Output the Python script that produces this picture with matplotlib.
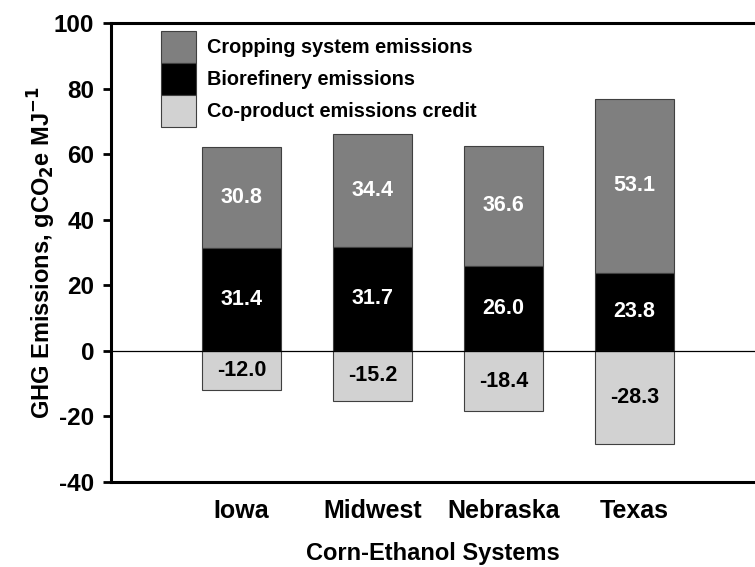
import numpy as np
import matplotlib.pyplot as plt

plt.rcParams['font.family'] = ['Liberation Sans', 'DejaVu Sans']
plt.rcParams['font.weight'] = 'bold'
plt.rcParams['axes.unicode_minus'] = False

systems = ["Iowa", "Midwest", "Nebraska", "Texas"]
biorefinery = [31.4, 31.7, 26.0, 23.8]
cropping = [30.8, 34.4, 36.6, 53.1]
coproduct = [-12.0, -15.2, -18.4, -28.3]

x = np.arange(len(systems))
w = 0.6

fig = plt.figure(figsize=(7.55, 5.67), dpi=100)
ax = fig.add_axes([111 / 755, 1 - 482 / 567, 644 / 755, 459 / 567])

edge = "#404040"
b_crop = ax.bar(x, cropping, w, bottom=biorefinery, color="#7f7f7f",
                edgecolor=edge, linewidth=0.8, label="Cropping system emissions")
b_bio = ax.bar(x, biorefinery, w, color="black",
               edgecolor=edge, linewidth=0.8, label="Biorefinery emissions")
b_co = ax.bar(x, coproduct, w, color="#d2d2d2",
              edgecolor=edge, linewidth=0.8, label="Co-product emissions credit")

ax.bar_label(b_crop, labels=[f"{v:.1f}" for v in cropping], label_type="center",
             color="white", fontsize=15.5, fontweight="bold")
ax.bar_label(b_bio, labels=[f"{v:.1f}" for v in biorefinery], label_type="center",
             color="white", fontsize=15.5, fontweight="bold")
ax.bar_label(b_co, labels=[f"{v:.1f}" for v in coproduct], label_type="center",
             color="black", fontsize=15.5, fontweight="bold")

ax.axhline(0, color="black", linewidth=0.9)

ax.set_xlim(-0.996, 3.92)
ax.set_ylim(-40, 100)
ax.set_yticks(np.arange(-40, 101, 20))
ax.set_xticks(x)
ax.set_xticklabels(systems, fontsize=18, fontweight="bold")
ax.tick_params(axis="x", length=0, pad=12)
ax.tick_params(axis="y", direction="out", length=6, width=2, labelsize=17.5, pad=6)
for lab in ax.get_yticklabels():
    lab.set_fontweight("bold")

ax.spines["right"].set_visible(False)
for s in ["left", "top", "bottom"]:
    ax.spines[s].set_linewidth(2.2)

ax.set_xlabel("Corn-Ethanol Systems", fontsize=17, fontweight="bold", labelpad=14)
ax.set_ylabel("GHG Emissions, gCO$_\\mathbf{2}$e MJ$^\\mathbf{-1}$",
              fontsize=17, fontweight="bold")
ax.yaxis.set_label_coords(-0.082, 0.5)

leg = ax.legend(loc="upper left", bbox_to_anchor=(0.065, 1.0), frameon=False,
                fontsize=14.3, handlelength=1.76, handleheight=2.1,
                labelspacing=0.0, handletextpad=0.55, borderaxespad=0.0)
for t in leg.get_texts():
    t.set_fontweight("bold")

fig.savefig("out.png", dpi=100)
